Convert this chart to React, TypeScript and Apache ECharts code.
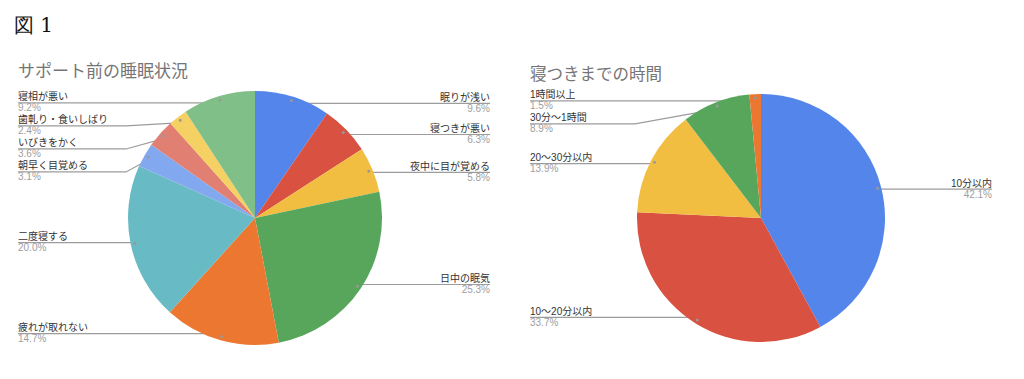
import React, { useEffect, useRef } from "react";
import * as echarts from "echarts";

// ---- data ----
const sleepNames = [
  "眠りが浅い",
  "寝つきが悪い",
  "夜中に目が覚める",
  "日中の眠気",
  "疲れが取れない",
  "二度寝する",
  "朝早く目覚める",
  "いびきをかく",
  "歯軋り・食いしばり",
  "寝相が悪い",
];
const sleepValues = [9.6, 6.3, 5.8, 25.3, 14.7, 20.0, 3.1, 3.6, 2.4, 9.2];
const sleepColors = [
  "#5485EB",
  "#D95140",
  "#F1BE42",
  "#58A65C",
  "#EC7730",
  "#68BAC4",
  "#82A9F0",
  "#E07F72",
  "#F5D063",
  "#81BF88",
];

const onsetNames = ["10分以内", "10〜20分以内", "20〜30分以内", "30分〜1時間", "1時間以上"];
const onsetValues = [42.1, 33.7, 13.9, 8.9, 1.5];
const onsetColors = ["#5485EB", "#D95140", "#F1BE42", "#58A65C", "#EC7730"];

const figTitle = "図 1";
const title1 = "サポート前の睡眠状況";
const title2 = "寝つきまでの時間";

// ---- layout ----
const W = 1024;
const H = 379;
const FONT = "'Liberation Sans', Arial, 'Noto Sans CJK JP', sans-serif";
const NAME_LH = 11;
const VAL_LH = 11;
const LINE_COLOR = "#9c9c9c";

function pieSeries(
  names: string[],
  values: number[],
  colors: string[],
  boxLeft: number,
  boxWidth: number,
  cx: number,
  cy: number,
  r: number
) {
  const base = {
    type: "pie",
    left: boxLeft,
    top: 0,
    width: boxWidth,
    height: H,
    center: [cx - boxLeft, cy],
    startAngle: 90,
    clockwise: true,
    silent: true,
    animation: false,
    emphasis: { disabled: true },
  };
  const data = names.map((n, i) => ({
    name: n,
    value: values[i],
    itemStyle: { color: colors[i] },
  }));
  const clearData = names.map((n, i) => ({
    name: n,
    value: values[i],
    itemStyle: { color: "rgba(0,0,0,0)" },
  }));
  const rDot = r * 0.945;
  const labelLayout = (params: any) => {
    const pts = params.labelLinePoints;
    const rect = params.labelRect;
    if (!pts || !rect) return {};
    const dot = pts[0];
    const isLeft = rect.x + rect.width / 2 < cx;
    const center = rect.y + rect.height / 2;
    const straight = Math.abs(center - dot[1]) < 2;
    const lineY = straight ? dot[1] : center;
    const endX = isLeft ? rect.x : rect.x + rect.width;
    const top = lineY - NAME_LH - 0.5;
    if (straight) {
      return {
        y: top,
        verticalAlign: "top",
        labelLinePoints: [dot, [(dot[0] + endX) / 2, lineY], [endX, lineY]],
      };
    }
    const kneeX = isLeft ? cx - r - 2 : cx + r + 2;
    return {
      y: top,
      verticalAlign: "top",
      labelLinePoints: [dot, [kneeX, lineY], [endX, lineY]],
    };
  };
  return [
    {
      ...base,
      radius: [0, r],
      data,
      itemStyle: { borderWidth: 0 },
      label: { show: false },
      labelLine: { show: false },
    },
    {
      ...base,
      radius: [0, rDot],
      data: clearData,
      itemStyle: { borderWidth: 0 },
      avoidLabelOverlap: true,
      label: {
        show: true,
        position: "outside",
        alignTo: "edge",
        edgeDistance: 0,
        distanceToLabelLine: 5,
        formatter: (p: any) => `{n|${p.name}}\n{v|${Number(p.value).toFixed(1)}%}`,
        rich: {
          n: { fontSize: 10, lineHeight: NAME_LH, color: "#333333", fontFamily: FONT },
          v: { fontSize: 10, lineHeight: VAL_LH, color: "#9e9e9e", fontFamily: FONT },
        },
      },
      labelLine: {
        show: true,
        length: 0,
        length2: 8,
        smooth: false,
        lineStyle: { color: LINE_COLOR, width: 1.2 },
      },
      labelLayout,
    },
    {
      ...base,
      radius: [r * 0.89, r],
      data: clearData,
      itemStyle: { borderWidth: 0 },
      label: {
        show: true,
        position: "inside",
        formatter: "{d| }",
        rich: {
          d: { width: 3, height: 3, borderRadius: 1.5, backgroundColor: "#999999", fontSize: 1 },
        },
      },
      labelLine: { show: false },
    },
  ];
}

export default function App() {
  const ref = useRef<HTMLDivElement>(null);
  useEffect(() => {
    if (!ref.current) return;
    const chart = echarts.init(ref.current, undefined, { renderer: "svg" });
    chart.setOption({
      animation: false,
      backgroundColor: "#ffffff",
      title: [
        {
          text: figTitle,
          left: 14,
          top: 15,
          padding: 0,
          textStyle: { fontFamily: "'DejaVu Serif', serif", fontSize: 20, fontWeight: "normal", color: "#111111" },
        },
        {
          text: title1,
          left: 18,
          top: 63,
          padding: 0,
          textStyle: { fontFamily: FONT, fontSize: 17, fontWeight: "normal", color: "#757575" },
        },
        {
          text: title2,
          left: 530,
          top: 66,
          padding: 0,
          textStyle: { fontFamily: FONT, fontSize: 16.5, fontWeight: "normal", color: "#757575" },
        },
      ],
      series: [
        ...pieSeries(sleepNames, sleepValues, sleepColors, 18, 472, 255, 218, 127),
        ...pieSeries(onsetNames, onsetValues, onsetColors, 530, 462, 761, 218, 124),
      ],
    });
    return () => chart.dispose();
  }, []);
  return (
    <div
      ref={ref}
      style={{ position: "absolute", left: 0, top: 0, width: W, height: H, background: "#fff" }}
    />
  );
}
